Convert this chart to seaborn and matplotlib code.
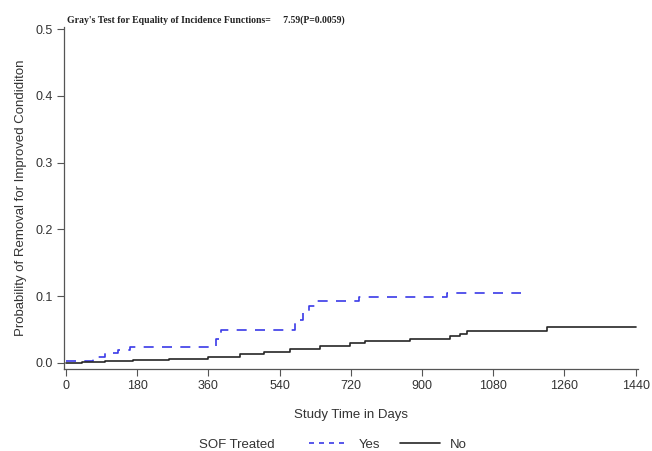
import numpy as np
import pandas as pd
import matplotlib
matplotlib.use("Agg")
import matplotlib.pyplot as plt
import seaborn as sns
from matplotlib.lines import Line2D

# Cumulative incidence steps
yes_days = [0, 68, 100, 131, 162, 380, 392, 566, 580, 600, 615, 629, 742, 962, 1150]
yes_prob = [0.003, 0.009, 0.015, 0.020, 0.024, 0.036, 0.050, 0.050, 0.065, 0.078, 0.085, 0.092, 0.098, 0.105, 0.105]

no_days = [0, 40, 100, 170, 260, 358, 440, 500, 566, 641, 717, 755, 869, 970, 995, 1013, 1215, 1442]
no_prob = [0.0, 0.001, 0.003, 0.005, 0.006, 0.009, 0.013, 0.016, 0.021, 0.026, 0.030, 0.033, 0.036, 0.040, 0.044, 0.048, 0.054, 0.054]

x_ticks = [0, 180, 360, 540, 720, 900, 1080, 1260, 1440]
y_ticks = [0.0, 0.1, 0.2, 0.3, 0.4, 0.5]

df = pd.concat([
    pd.DataFrame({"days": yes_days, "prob": yes_prob, "SOF Treated": "Yes"}),
    pd.DataFrame({"days": no_days, "prob": no_prob, "SOF Treated": "No"}),
])

sns.set_style("white")
plt.rcParams["font.family"] = ["Liberation Sans", "DejaVu Sans"]

fig = plt.figure(figsize=(6.52, 4.51), dpi=100)
ax = fig.add_axes([0.098, 0.182, 0.880, 0.758])

blue = "#3a3ae8"
dark = "#262626"
sns.lineplot(data=df[df["SOF Treated"] == "Yes"], x="days", y="prob", ax=ax,
             drawstyle="steps-post", color=blue, linestyle=(0, (6, 5)), linewidth=1.2,
             estimator=None)
sns.lineplot(data=df[df["SOF Treated"] == "No"], x="days", y="prob", ax=ax,
             drawstyle="steps-post", color=dark, linewidth=1.2, estimator=None)

ax.set_xlim(-5, 1445)
ax.set_ylim(-0.009, 0.503)
ax.set_xticks(x_ticks)
ax.set_yticks(y_ticks)
ax.set_yticklabels([f"{v:.1f}" for v in y_ticks])
ax.tick_params(axis="both", direction="out", length=5, width=0.8, colors="#555555",
               labelsize=9, labelcolor="#333333", bottom=True, left=True, pad=3)
for s in ["top", "right"]:
    ax.spines[s].set_visible(False)
for s in ["left", "bottom"]:
    ax.spines[s].set_color("#555555")
    ax.spines[s].set_linewidth(0.9)

ax.set_xlabel("Study Time in Days", fontsize=9.5, color="#333333", labelpad=12)
ax.set_ylabel("Probability of Removal for Improved Condiditon", fontsize=9.5,
              color="#333333", labelpad=6)

# Gray's test annotation just above the plotting area
ax.text(0.005, 0.514, "Gray's Test for Equality of Incidence Functions=     7.59(P=0.0059)",
        transform=ax.get_yaxis_transform(), fontsize=7, fontweight="bold",
        family=["Liberation Serif", "DejaVu Serif"], color="#222222", va="center")

fig.text(0.305, 0.014, "SOF Treated", fontsize=9.5, color="#333333", va="center")
handles = [Line2D([], [], color=blue, linestyle=(0, (3, 3)), linewidth=1.2),
           Line2D([], [], color=dark, linewidth=1.2)]
fig.legend(handles, ["Yes", "No"], loc="center left", bbox_to_anchor=(0.455, 0.014),
           ncol=2, frameon=False, fontsize=9.5, handlelength=3.0, columnspacing=1.5,
           handletextpad=0.8, labelcolor="#333333")

fig.savefig("out.png", dpi=100)
